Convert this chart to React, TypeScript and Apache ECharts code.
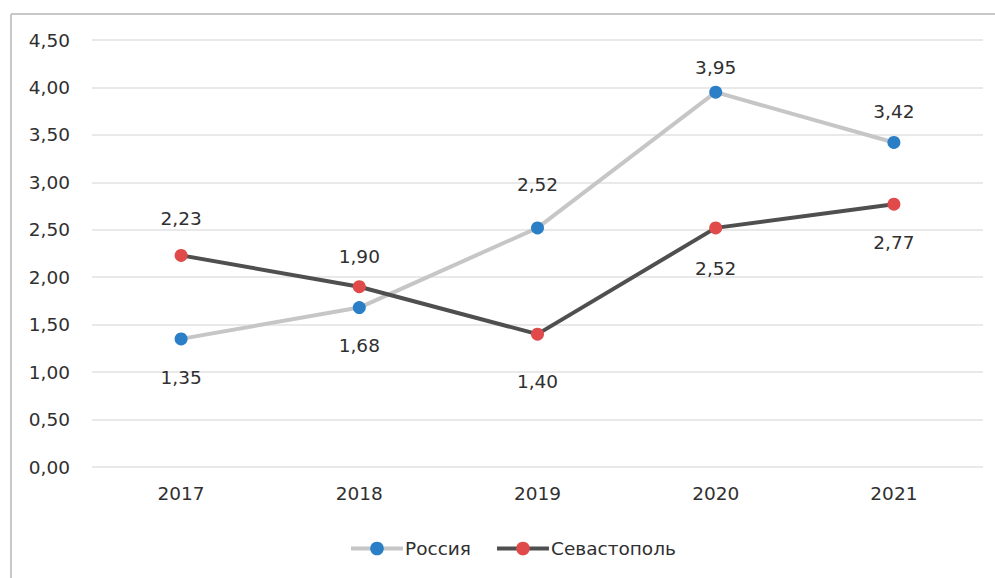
import React, { useEffect, useRef } from "react";
import * as echarts from "echarts";

const years = ["2017", "2018", "2019", "2020", "2021"];
const russia = [1.35, 1.68, 2.52, 3.95, 3.42];
const sevastopol = [2.23, 1.9, 1.4, 2.52, 2.77];

// label placement (style only)
const russiaLabelPos = ["bottom", "bottom", "top", "top", "top"];
const russiaLabelDist = [23, 22, 27, 9, 15];
const sevLabelPos = ["top", "top", "bottom", "bottom", "bottom"];
const sevLabelDist = [21, 14, 31, 25, 22];

const fmt = (v: number) => v.toFixed(2).replace(".", ",");
const FONT = "'DejaVu Sans', 'Noto Sans', sans-serif";
const TXT = "#303030";
const FS = 18.5;

export default function App() {
  const ref = useRef<HTMLDivElement>(null);
  useEffect(() => {
    const chart = echarts.init(ref.current!, null, { renderer: "svg" });
    const mk = (vals: number[], pos: string[], dist: number[]) =>
      vals.map((v, i) => ({
        value: v,
        label: { position: pos[i], distance: dist[i] },
      }));
    const labelBase = {
      show: true,
      color: TXT,
      fontSize: FS,
      fontFamily: FONT,
      formatter: (p: any) => fmt(p.value),
    };
    chart.setOption({
      animation: false,
      textStyle: { fontFamily: FONT },
      grid: { left: 92, right: 12, top: 40, bottom: 111 },
      graphic: [
        { type: "line", shape: { x1: 11, y1: 14, x2: 995, y2: 14 }, style: { stroke: "#c8c8c8", lineWidth: 2 } },
        { type: "line", shape: { x1: 11, y1: 14, x2: 11, y2: 578 }, style: { stroke: "#c8c8c8", lineWidth: 2 } },
      ],
      xAxis: {
        type: "category",
        data: years,
        boundaryGap: true,
        axisLine: { show: false },
        axisTick: { show: false },
        axisLabel: { color: TXT, fontSize: FS, margin: 17, fontFamily: FONT },
      },
      yAxis: {
        type: "value",
        min: 0,
        max: 4.5,
        interval: 0.5,
        axisLine: { show: false },
        axisTick: { show: false },
        splitLine: { lineStyle: { color: "#e2e2e2", width: 1.5 } },
        axisLabel: { color: TXT, fontSize: FS, margin: 22, fontFamily: FONT, formatter: (v: number) => fmt(v) },
      },
      legend: {
        bottom: 15,
        left: 344,
        itemWidth: 52,
        itemHeight: 17,
        itemGap: 24,
        textStyle: { color: TXT, fontSize: FS, fontFamily: FONT, padding: [0, 0, 0, -3] },
        data: [
          { name: "Россия", lineStyle: { width: 4 } },
          { name: "Севастополь", lineStyle: { width: 4 } },
        ],
      },
      series: [
        {
          name: "Россия",
          type: "line",
          data: mk(russia, russiaLabelPos, russiaLabelDist),
          symbol: "circle",
          symbolSize: 13,
          lineStyle: { color: "#c6c6c6", width: 4 },
          itemStyle: { color: "#2a7fc6" },
          label: labelBase,
        },
        {
          name: "Севастополь",
          type: "line",
          data: mk(sevastopol, sevLabelPos, sevLabelDist),
          symbol: "circle",
          symbolSize: 13,
          lineStyle: { color: "#4f4f4f", width: 4 },
          itemStyle: { color: "#e04a4a" },
          label: labelBase,
        },
      ],
    });
    return () => chart.dispose();
  }, []);
  return <div ref={ref} style={{ width: 995, height: 578, position: "absolute", left: 0, top: 0 }} />;
}
